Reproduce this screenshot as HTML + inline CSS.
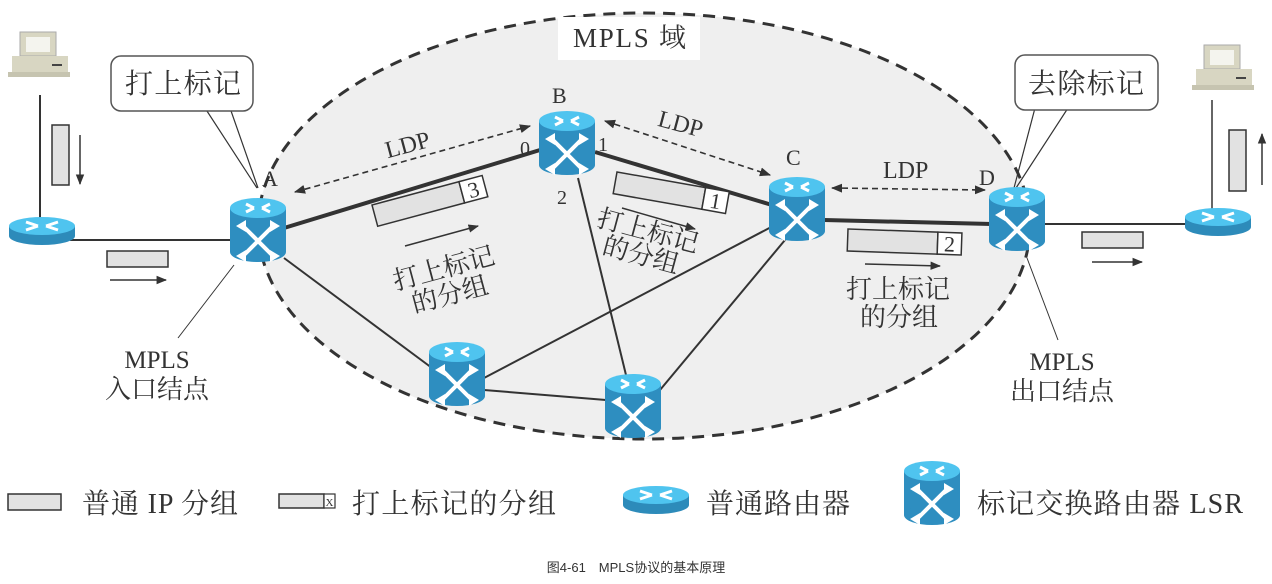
<!DOCTYPE html>
<html><head><meta charset="utf-8"><style>
html,body{margin:0;padding:0;background:#fff;width:1272px;height:584px;overflow:hidden}
svg text{font-family:"Liberation Serif","Noto Serif CJK SC",serif;fill:#333}
</style></head><body>
<svg width="1272" height="584" viewBox="0 0 1272 584" xmlns="http://www.w3.org/2000/svg">
<defs>
<marker id="ah" viewBox="0 0 10 10" refX="9" refY="5" markerWidth="7" markerHeight="7" orient="auto-start-reverse"><path d="M0,1 L10,5 L0,9 z" fill="#333"/></marker>
<g id="lsr">
<rect x="-28" y="-22" width="56" height="44" fill="#2e8ec0"/>
<ellipse cx="0" cy="22" rx="28" ry="10" fill="#2e8ec0"/>
<ellipse cx="0" cy="-22" rx="28" ry="10" fill="#4fc4ef"/>
<path d="M-12,-26 L-4,-22 M12,-26 L4,-22 M-12,-18 L-4,-22 M12,-18 L4,-22" stroke="#fff" stroke-width="3"/>
<path d="M-15,-4 L15,26 M15,-4 L-15,26" stroke="#fff" stroke-width="4"/>
<path d="M-22,-4 L-12,-10 L-12,2 z M22,-4 L12,-10 L12,2 z M-22,26 L-12,20 L-12,32 z M22,26 L12,20 L12,32 z" fill="#fff"/>
</g>
<g id="rt">
<rect x="-33" y="-5" width="66" height="10" fill="#2d8bba"/>
<ellipse cx="0" cy="5" rx="33" ry="9" fill="#2d8bba"/>
<ellipse cx="0" cy="-5" rx="33" ry="9" fill="#4fc4ef"/>
<path d="M-16,-9 L-4,-5 M16,-9 L4,-5 M-16,-1 L-4,-5 M16,-1 L4,-5" stroke="#fff" stroke-width="3"/>
</g>
<g id="pc">
<rect x="-18" y="-30" width="36" height="24" fill="#d8d6c2" stroke="#aaa"/>
<rect x="-12" y="-25" width="24" height="15" fill="#f4f4ee"/>
<rect x="-26" y="-6" width="56" height="16" fill="#d8d6c2"/>
<rect x="-30" y="10" width="62" height="5" fill="#c6c4b0"/>
<rect x="14" y="2" width="10" height="2" fill="#444"/>
</g>
</defs>
<ellipse cx="644" cy="226" rx="386" ry="213" fill="#efefef" stroke="#333" stroke-width="3" stroke-dasharray="12,8"/>
<rect x="558" y="17" width="142" height="43" fill="#fff"/>
<line x1="40" y1="95" x2="40" y2="225" stroke="#333" stroke-width="2"/>
<line x1="70" y1="240" x2="232" y2="240" stroke="#333" stroke-width="2"/>
<line x1="1040" y1="224" x2="1190" y2="224" stroke="#333" stroke-width="2"/>
<line x1="1212" y1="100" x2="1212" y2="212" stroke="#333" stroke-width="1.5"/>
<g stroke="#333">
<line x1="284" y1="228" x2="540" y2="150" stroke-width="4"/>
<line x1="595" y1="152" x2="772" y2="205" stroke-width="4"/>
<line x1="824" y1="220" x2="992" y2="224" stroke-width="4"/>
<line x1="284" y1="258" x2="432" y2="368" stroke-width="2"/>
<line x1="484" y1="378" x2="775" y2="225" stroke-width="2"/>
<line x1="484" y1="390" x2="606" y2="400" stroke-width="2"/>
<line x1="578" y1="178" x2="626" y2="375" stroke-width="2"/>
<line x1="660" y1="390" x2="785" y2="240" stroke-width="2"/>
</g>
<g stroke="#333" stroke-width="1.6" stroke-dasharray="6,4" fill="none">
<line x1="295" y1="192" x2="530" y2="126" marker-start="url(#ah)" marker-end="url(#ah)"/>
<line x1="605" y1="121" x2="770" y2="175" marker-start="url(#ah)" marker-end="url(#ah)"/>
<line x1="832" y1="188" x2="985" y2="190" marker-start="url(#ah)" marker-end="url(#ah)"/>
</g>
<line x1="205" y1="108" x2="257" y2="188" stroke="#333" stroke-width="1.2"/>
<line x1="230" y1="108" x2="258" y2="188" stroke="#333" stroke-width="1.2"/>
<rect x="111" y="56" width="142" height="55" rx="10" fill="#fff" stroke="#555" stroke-width="1.5"/>
<text x="125" y="93" font-size="28" textLength="116">打上标记</text>
<line x1="1035" y1="108" x2="1014" y2="188" stroke="#333" stroke-width="1.2"/>
<line x1="1068" y1="108" x2="1016" y2="188" stroke="#333" stroke-width="1.2"/>
<rect x="1015" y="55" width="143" height="55" rx="10" fill="#fff" stroke="#555" stroke-width="1.5"/>
<text x="1028" y="93" font-size="28" textLength="116">去除标记</text>
<line x1="234" y1="265" x2="178" y2="338" stroke="#333" stroke-width="1"/>
<line x1="1027" y1="258" x2="1058" y2="340" stroke="#333" stroke-width="1"/>
<use href="#pc" x="38" y="62"/>
<use href="#pc" x="1222" y="75"/>
<use href="#rt" x="42" y="231"/>
<use href="#rt" x="1218" y="222"/>
<use href="#lsr" x="258" y="230"/>
<use href="#lsr" x="567" y="143"/>
<use href="#lsr" x="797" y="209"/>
<use href="#lsr" x="1017" y="219"/>
<use href="#lsr" x="457" y="374"/>
<use href="#lsr" x="633" y="406"/>
<rect x="52" y="125" width="17" height="60" fill="#e2e2e2" stroke="#333" stroke-width="1.5"/>
<line x1="80" y1="135" x2="80" y2="184" stroke="#333" stroke-width="1.5" marker-end="url(#ah)"/>
<rect x="107" y="251" width="61" height="16" fill="#e2e2e2" stroke="#333" stroke-width="1.5"/>
<line x1="110" y1="280" x2="166" y2="280" stroke="#333" stroke-width="1.5" marker-end="url(#ah)"/>
<rect x="1082" y="232" width="61" height="16" fill="#e2e2e2" stroke="#333" stroke-width="1.5"/>
<line x1="1092" y1="262" x2="1142" y2="262" stroke="#333" stroke-width="1.5" marker-end="url(#ah)"/>
<rect x="1229" y="130" width="17" height="61" fill="#e2e2e2" stroke="#333" stroke-width="1.5"/>
<line x1="1262" y1="185" x2="1262" y2="134" stroke="#333" stroke-width="1.5" marker-end="url(#ah)"/>
<g transform="translate(372,205) rotate(-15)">
<rect x="0" y="0" width="90" height="22" fill="#e2e2e2" stroke="#333" stroke-width="1.5"/>
<rect x="90" y="0" width="24" height="22" fill="#fff" stroke="#333" stroke-width="1.5"/>
<text x="102" y="19" font-size="22" text-anchor="middle">3</text>
</g>
<line x1="405" y1="246" x2="478" y2="226" stroke="#333" stroke-width="1.5" marker-end="url(#ah)"/>
<g transform="translate(617,172) rotate(10)">
<rect x="0" y="0" width="90" height="22" fill="#e2e2e2" stroke="#333" stroke-width="1.5"/>
<rect x="90" y="0" width="24" height="22" fill="#fff" stroke="#333" stroke-width="1.5"/>
<text x="102" y="19" font-size="22" text-anchor="middle">1</text>
</g>
<line x1="622" y1="208" x2="695" y2="229" stroke="#333" stroke-width="1.5" marker-end="url(#ah)"/>
<g transform="translate(848,229) rotate(2)">
<rect x="0" y="0" width="90" height="22" fill="#e2e2e2" stroke="#333" stroke-width="1.5"/>
<rect x="90" y="0" width="24" height="22" fill="#fff" stroke="#333" stroke-width="1.5"/>
<text x="102" y="19" font-size="22" text-anchor="middle">2</text>
</g>
<line x1="865" y1="264" x2="940" y2="266" stroke="#333" stroke-width="1.5" marker-end="url(#ah)"/>
<text x="573" y="47" font-size="27" textLength="113">MPLS 域</text>
<text x="262" y="186" font-size="22">A</text>
<text x="552" y="103" font-size="22">B</text>
<text x="786" y="165" font-size="22">C</text>
<text x="979" y="185" font-size="22">D</text>
<text x="520" y="155" font-size="20">0</text>
<text x="598" y="151" font-size="20">1</text>
<text x="557" y="204" font-size="20">2</text>
<text x="385" y="152" font-size="24" transform="rotate(-15 410 145)">LDP</text>
<text x="657" y="133" font-size="24" transform="rotate(15 685 128)">LDP</text>
<text x="883" y="178" font-size="24">LDP</text>
<text x="392" y="278" font-size="26" transform="rotate(-15 440 270)">打上标记</text>
<text x="412" y="306" font-size="26" transform="rotate(-15 440 300)">的分组</text>
<text x="592" y="238" font-size="26" transform="rotate(15 640 245)">打上标记</text>
<text x="598" y="264" font-size="26" transform="rotate(15 640 270)">的分组</text>
<text x="846" y="298" font-size="26">打上标记</text>
<text x="860" y="326" font-size="26">的分组</text>
<text x="157" y="368" font-size="25" text-anchor="middle">MPLS</text>
<text x="157" y="398" font-size="26" text-anchor="middle">入口结点</text>
<text x="1062" y="370" font-size="25" text-anchor="middle">MPLS</text>
<text x="1062" y="400" font-size="26" text-anchor="middle">出口结点</text>
<rect x="8" y="494" width="53" height="16" fill="#e2e2e2" stroke="#333" stroke-width="1.5"/>
<text x="82" y="513" font-size="28" textLength="156">普通 IP 分组</text>
<rect x="279" y="494" width="45" height="14" fill="#e2e2e2" stroke="#333" stroke-width="1.5"/>
<rect x="324" y="494" width="11" height="14" fill="#fff" stroke="#333" stroke-width="1.2"/>
<text x="329.5" y="506" font-size="11" text-anchor="middle">X</text>
<text x="352" y="513" font-size="28" textLength="204">打上标记的分组</text>
<use href="#rt" x="656" y="500"/>
<text x="706" y="513" font-size="28" textLength="144">普通路由器</text>
<use href="#lsr" x="932" y="493"/>
<text x="977" y="513" font-size="28" textLength="266">标记交换路由器 LSR</text>
<text x="636" y="572" font-size="13" text-anchor="middle" style="font-family:'Liberation Sans','Noto Sans CJK SC',sans-serif">图4-61　MPLS协议的基本原理</text>
</svg>
</body></html>
